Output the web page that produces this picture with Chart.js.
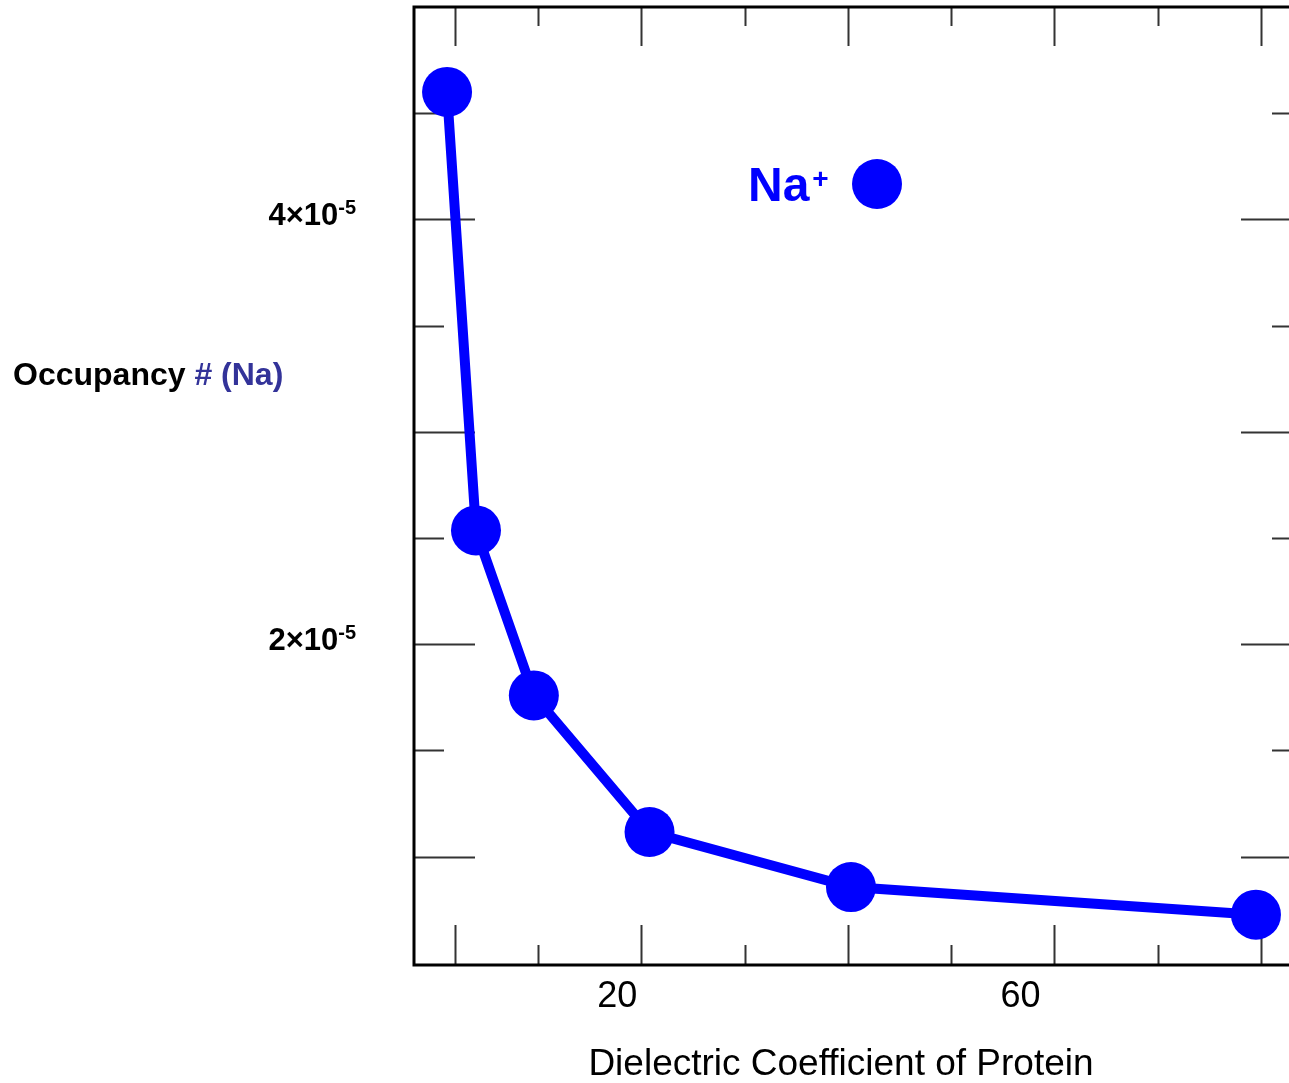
<!DOCTYPE html>
<html>
<head>
<meta charset="utf-8">
<title>Occupancy vs dielectric coefficient</title>
<script src="https://cdn.jsdelivr.net/npm/chart.js@4.4.1/dist/chart.umd.min.js"></script>
<style>
  html, body { margin: 0; padding: 0; background: #fff; }
  canvas { display: block; }
</style>
</head>
<body>
<canvas id="occ" width="1289" height="1083"></canvas>
<script>
// Na+ occupancy against the protein dielectric coefficient
var dielectric = [1.2, 4.0, 9.6, 20.8, 40.3, 79.5];
var occupancy  = [4.60e-5, 2.536e-5, 1.759e-5, 1.116e-5, 0.857e-5, 0.727e-5];

// axis ticks
var xMajor = [2, 20, 40, 60, 80];
var xMinor = [10, 30, 50, 70];
var xLabels = [20, 60];
var yMajor = [1e-5, 2e-5, 3e-5, 4e-5];
var yMinor = [1.5e-5, 2.5e-5, 3.5e-5, 4.5e-5];
var yLabels = [2e-5, 4e-5];

var FONT = '"Liberation Sans", Arial, Helvetica, sans-serif';
var BLUE = '#0000ff';

// x labels sit a little to the left of their ticks
var xLabelShift = { 20: -24, 60: -34 };

var framePlugin = {
  id: 'frame',
  beforeDatasetsDraw: function(chart) {
    var ctx = chart.ctx, a = chart.chartArea;
    var xs = chart.scales.x, ys = chart.scales.y;
    ctx.save();

    // ticks, all pointing inward
    ctx.strokeStyle = '#333';
    ctx.lineWidth = 2;
    function vt(v, top, bot) {
      var px = Math.round(xs.getPixelForValue(v)) + 0.5;
      ctx.beginPath();
      ctx.moveTo(px, a.top); ctx.lineTo(px, a.top + top);
      ctx.moveTo(px, a.bottom); ctx.lineTo(px, a.bottom - bot);
      ctx.stroke();
    }
    function ht(v, left, right) {
      var py = Math.round(ys.getPixelForValue(v)) + 0.5;
      ctx.beginPath();
      ctx.moveTo(a.left, py); ctx.lineTo(a.left + left, py);
      ctx.moveTo(a.right, py); ctx.lineTo(a.right - right, py);
      ctx.stroke();
    }
    xMajor.forEach(function(v) { vt(v, 39, 40); });
    xMinor.forEach(function(v) { vt(v, 19, 20); });
    yMajor.forEach(function(v) { ht(v, 61, 48); });
    yMinor.forEach(function(v) { ht(v, 30, 17); });

    // frame: left, top, bottom
    ctx.strokeStyle = '#000';
    ctx.lineWidth = 3;
    ctx.beginPath();
    ctx.moveTo(a.right, a.top);
    ctx.lineTo(a.left, a.top);
    ctx.lineTo(a.left, a.bottom);
    ctx.lineTo(a.right, a.bottom);
    ctx.stroke();

    // x tick labels
    ctx.fillStyle = '#000';
    ctx.font = '36px ' + FONT;
    ctx.textAlign = 'center';
    ctx.textBaseline = 'alphabetic';
    xLabels.forEach(function(v) {
      ctx.fillText(String(v), xs.getPixelForValue(v) + (xLabelShift[v] || 0), a.bottom + 42);
    });

    // y tick labels, n×10^-5
    yLabels.forEach(function(v) {
      var py = ys.getPixelForValue(v);
      var exp = Math.floor(Math.log10(v) + 1e-9);
      var mant = Math.round(v / Math.pow(10, exp));
      var right = 356;
      ctx.textAlign = 'right';
      ctx.font = 'bold 20px ' + FONT;
      var sup = String(exp);
      ctx.fillText(sup, right, py - 5);
      var sw = ctx.measureText(sup).width;
      ctx.font = 'bold 31px ' + FONT;
      ctx.fillText(mant + '\u00d710', right - sw, py + 6);
    });

    // axis titles
    ctx.textAlign = 'left';
    ctx.font = 'bold 32px ' + FONT;
    ctx.fillStyle = '#000';
    var t1 = 'Occupancy ';
    ctx.fillText(t1, 13, 385);
    ctx.fillStyle = '#333399';
    ctx.fillText('# (Na)', 13 + ctx.measureText(t1).width, 385);

    ctx.fillStyle = '#000';
    ctx.font = '37px ' + FONT;
    ctx.textAlign = 'center';
    ctx.fillText('Dielectric Coefficient of Protein', 841, 1075);

    // legend
    ctx.fillStyle = BLUE;
    ctx.textAlign = 'left';
    ctx.font = 'bold 48px ' + FONT;
    ctx.fillText('Na', 748, 201);
    var nw = ctx.measureText('Na').width;
    ctx.font = 'bold 28px ' + FONT;
    ctx.fillText('+', 748 + nw + 3, 188);
    ctx.beginPath();
    ctx.arc(877, 184, 25, 0, Math.PI * 2);
    ctx.fill();

    ctx.restore();
  }
};

var points = dielectric.map(function(d, i) { return { x: d, y: occupancy[i] }; });

new Chart(document.getElementById('occ').getContext('2d'), {
  type: 'line',
  data: {
    datasets: [{
      label: 'Na+',
      data: points,
      borderColor: BLUE,
      backgroundColor: BLUE,
      borderWidth: 10,
      pointRadius: 25,
      pointBackgroundColor: BLUE,
      pointBorderWidth: 0,
      tension: 0,
      clip: false
    }]
  },
  options: {
    responsive: false,
    animation: false,
    layout: { autoPadding: false, padding: { left: 414, top: 7, right: 0, bottom: 118 } },
    plugins: { legend: { display: false }, tooltip: { enabled: false } },
    scales: {
      x: { type: 'linear', min: -2, max: 82.7, display: false },
      y: { type: 'linear', min: 0.49e-5, max: 5.0e-5, display: false }
    }
  },
  plugins: [framePlugin]
});
</script>
</body>
</html>
